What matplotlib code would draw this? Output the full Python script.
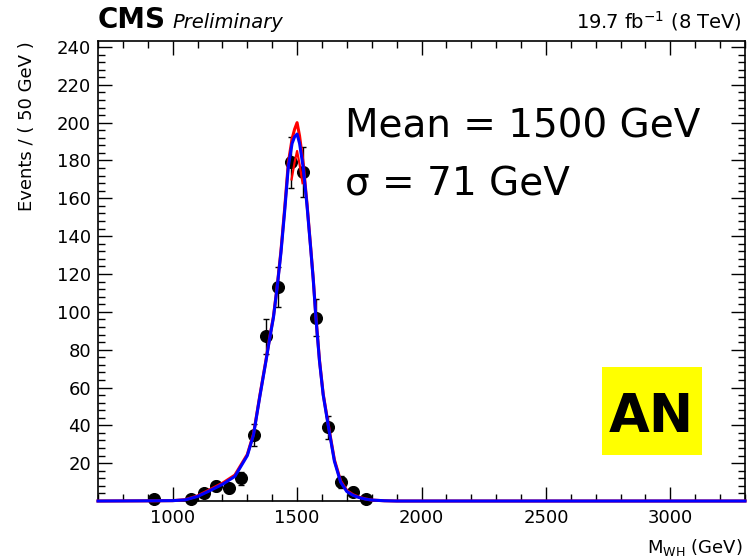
import matplotlib
matplotlib.use("Agg")
import matplotlib.pyplot as plt
from matplotlib.ticker import FixedLocator, MultipleLocator
from matplotlib.patches import Rectangle

# Binned events, 50 GeV bins
mass_bins = [925, 1075, 1125, 1175, 1225, 1275, 1325, 1375, 1425,
             1475, 1525, 1575, 1625, 1675, 1725, 1775]
events = [1, 1, 4, 8, 7, 12, 35, 87, 113, 179, 174, 97, 39, 10, 5, 1]
event_errors = [1.0, 1.0, 2.0, 2.8, 2.6, 3.5, 5.9, 9.3, 10.6,
                13.4, 13.2, 9.8, 6.2, 3.2, 2.2, 1.0]

# Fitted signal shapes (events per 50 GeV)
fit_mass = [700, 900, 1000, 1050, 1100, 1150, 1200, 1250, 1300, 1325,
            1350, 1375, 1390, 1405, 1420, 1435, 1450, 1465, 1480, 1490,
            1500, 1510, 1525, 1540, 1555, 1565, 1575, 1590, 1605, 1625,
            1650, 1675, 1700, 1725, 1750, 1775, 1800, 1850, 1900, 3300]
fit_blue = [0, 0.1, 0.2, 0.6, 2.4, 5.5, 8.8, 13, 24, 35,
            55, 74, 86, 97, 113, 131, 153, 177, 189, 192.5,
            194, 189, 176, 156, 133, 117, 98, 74, 56, 40,
            21, 10, 5, 3, 1.8, 1.0, 0.5, 0.15, 0, 0]
fit_red = [0, 0.1, 0.2, 0.7, 2.7, 6.0, 9.4, 13.7, 24.6, 35.5,
           55.5, 74.5, 86.5, 97.5, 113.5, 132, 154.5, 179, 191.5, 196.5,
           200, 193, 178, 157, 133.5, 117.5, 98.5, 74.5, 56.5, 40.7,
           21.8, 10.6, 5.5, 3.3, 2.0, 1.1, 0.5, 0.15, 0, 0]
peak_mass = [1478, 1490, 1500, 1510, 1522]
peak_red = [170, 179, 185, 178, 168]

x_ticks = [1000, 1500, 2000, 2500, 3000]
y_ticks = [20, 40, 60, 80, 100, 120, 140, 160, 180, 200, 220, 240]

W, H = 754, 560
plt.rcParams['font.family'] = ['DejaVu Sans']
plt.rcParams['mathtext.fontset'] = 'dejavusans'

fig = plt.figure(figsize=(W / 100, H / 100), dpi=100)


def fx(px):
    return px / W


def fy(py):
    return 1 - py / H


ax = fig.add_axes([fx(98), fy(501), (745 - 98) / W, (501 - 41.3) / H])

ax.errorbar(mass_bins, events, yerr=event_errors, fmt='o', color='black',
            ms=8.4, elinewidth=1.0, capsize=2.2, capthick=1.0,
            zorder=3, clip_on=False)
ax.plot(fit_mass, fit_red, color='#ff0000', lw=2.2, zorder=4, clip_on=False)
ax.plot(peak_mass, peak_red, color='#ff0000', lw=1.6, zorder=4)
ax.plot(fit_mass, fit_blue, color='#0000ff', lw=2.2, zorder=5, clip_on=False)

ax.set_xlim(700, 3300)
ax.set_ylim(0.01, 243)
ax.xaxis.set_major_locator(FixedLocator(x_ticks))
ax.xaxis.set_minor_locator(MultipleLocator(100))
ax.yaxis.set_major_locator(FixedLocator(y_ticks))
ax.yaxis.set_minor_locator(MultipleLocator(4))
ax.tick_params(which='both', direction='in', top=True, right=True,
               width=1.0, labelsize=13)
ax.tick_params(which='major', length=10)
ax.tick_params(which='minor', length=5)
ax.tick_params(axis='y', pad=5)
ax.tick_params(axis='x', pad=6)
for sp in ax.spines.values():
    sp.set_linewidth(1.2)

# Header
fig.text(fx(98), fy(28), 'CMS', fontsize=20, fontweight='bold',
         ha='left', va='baseline')
fig.text(fx(172), fy(28), 'Preliminary', fontsize=14, style='italic',
         ha='left', va='baseline')
fig.text(fx(742), fy(28), r'19.7 fb$^{-1}$ (8 TeV)', fontsize=14,
         ha='right', va='baseline')

# Fit summary
fig.text(fx(345), fy(137), 'Mean = 1500 GeV', fontsize=28,
         ha='left', va='baseline')
fig.text(fx(345), fy(195), 'σ = 71 GeV', fontsize=28,
         ha='left', va='baseline')

# Analysis-note badge
fig.add_artist(Rectangle((fx(602), fy(455)), 100 / W, 88 / H,
                         transform=fig.transFigure, facecolor='#ffff00',
                         edgecolor='none'))
fig.text(fx(651.5), fy(431.7), 'AN', fontsize=38, fontweight='bold',
         ha='center', va='baseline')

# Axis titles
fig.text(fx(27), fy(41.7), 'Events / ( 50 GeV )', rotation=90,
         ha='center', va='top', fontsize=13)
fig.text(fx(743), fy(553), r'M$_{\mathrm{WH}}$ (GeV)', ha='right',
         va='baseline', fontsize=13)

fig.savefig('out.png', dpi=100)
